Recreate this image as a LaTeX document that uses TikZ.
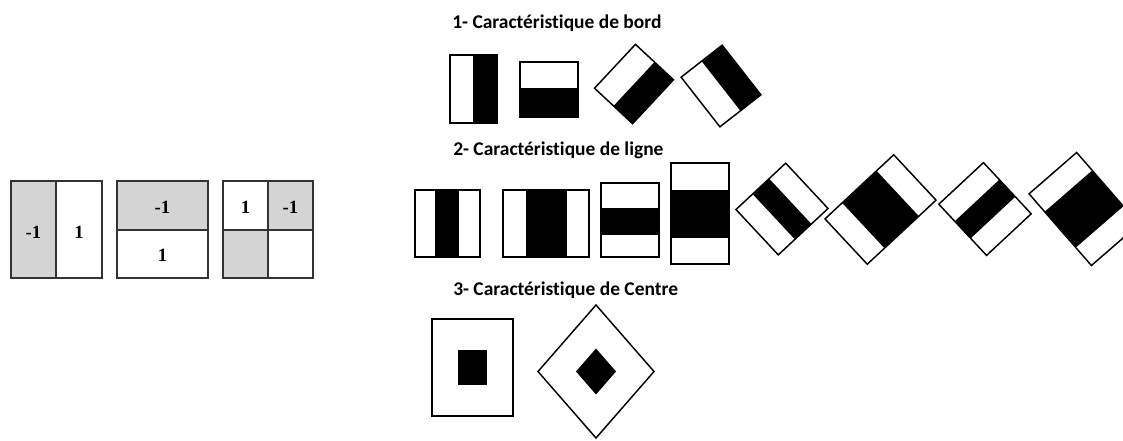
\documentclass[tikz,border=0pt]{standalone}
\usepackage{fontspec}
\setmainfont{Liberation Serif}
\newfontfamily\titlefont[Ligatures=NoCommon]{Carlito}

\begin{document}
\begin{tikzpicture}[x=0.75pt,y=-0.75pt]
    % Define styles
    \tikzstyle{kbox} = [draw=black!80, line width=1.6pt]
    \tikzstyle{lgray} = [fill=black!17]
    \tikzstyle{feat} = [draw, line width=1.1pt]
    \tikzstyle{dark} = [fill=black]
    \tikzstyle{num} = [font=\fontsize{14}{16}\selectfont\bfseries, inner sep=0pt]
    \tikzstyle{title} = [font=\titlefont\fontsize{14.6}{16}\selectfont\bfseries, anchor=west, inner sep=0pt]

    \useasboundingbox (0,0) rectangle (1123,440);
    \clip (0,0) rectangle (1123,440);

    % Kernels
    \fill [lgray] (11,181) rectangle (56,278);
    \draw [kbox] (11,181) rectangle (102,278);
    \draw [kbox] (56,181) -- (56,278);
    \node [num] (k1a) at (33.5,232) {-1};
    \node [num] (k1b) at (79,232) {1};

    \fill [lgray] (117,181) rectangle (208,230);
    \draw [kbox] (117,181) rectangle (208,278);
    \draw [kbox] (117,230) -- (208,230);
    \node [num] (k2a) at (162.5,207) {-1};
    \node [num] (k2b) at (162.5,255) {1};

    \fill [lgray] (268,181) rectangle (313,230);
    \fill [lgray] (223,230) rectangle (268,278);
    \draw [kbox] (223,181) rectangle (313,278);
    \draw [kbox] (268,181) -- (268,278);
    \draw [kbox] (223,230) -- (313,230);
    \node [num] (k3a) at (245.5,207) {1};
    \node [num] (k3b) at (290.5,207) {-1};

    % Titles
    \node [title] (t1) at (452,23) {1- Caractéristique de bord};
    \node [title] (t2) at (453,150) {2- Caractéristique de ligne};
    \node [title] (t3) at (453,290) {3- Caractéristique de Centre};

    % Edge features
    \fill [dark] (473,55) rectangle (497,123);
    \draw [feat] (450,55) rectangle (497,123);
    \fill [dark] (520,88) rectangle (578,117);
    \draw [feat] (520,62) rectangle (578,117);
    \begin{scope}[shift={(634,84)}, rotate=-43]
        \fill [dark] (0,-30) rectangle (26,30);
        \draw [feat] (-26,-30) rectangle (26,30);
    \end{scope}
    \begin{scope}[shift={(721,86)}, rotate=-52]
        \fill [dark] (-31.5,-26) rectangle (31.5,0);
        \draw [feat] (-31.5,-26) rectangle (31.5,26);
    \end{scope}

    % Line features
    \fill [dark] (435,190) rectangle (459,257);
    \draw [feat] (415,190) rectangle (480,257);
    \fill [dark] (526,190) rectangle (567,257);
    \draw [feat] (503,190) rectangle (589,257);
    \fill [dark] (601,208) rectangle (659,235);
    \draw [feat] (601,183) rectangle (659,257);
    \fill [dark] (671,190) rectangle (729,238);
    \draw [feat] (671,163) rectangle (729,264);
    \begin{scope}[shift={(782,209)}, rotate=-47]
        \fill [dark] (-31,-11.3) rectangle (31,11.3);
        \draw [feat] (-31,-34) rectangle (31,34);
    \end{scope}
    \begin{scope}[shift={(880.5,209.5)}, rotate=-47]
        \fill [dark] (-31,-23.5) rectangle (31,23.5);
        \draw [feat] (-31,-47) rectangle (31,47);
    \end{scope}
    \begin{scope}[shift={(985,209)}, rotate=-47]
        \fill [dark] (-11.7,-30.5) rectangle (11.7,30.5);
        \draw [feat] (-35,-30.5) rectangle (35,30.5);
    \end{scope}
    \begin{scope}[shift={(1084,209)}, rotate=-49]
        \fill [dark] (-23.75,-31.5) rectangle (23.75,31.5);
        \draw [feat] (-47.5,-31.5) rectangle (47.5,31.5);
    \end{scope}

    % Centre features
    \fill [dark] (458,350) rectangle (487,385);
    \draw [feat] (432,319) rectangle (513,416);
    \coordinate (c) at (596,371.5);
    \fill [dark] (c) ++(0,-23) -- ++(20,23) -- ++(-20,23) -- ++(-20,-23) -- cycle;
    \draw [feat] (c) ++(0,-66.5) -- ++(58,66.5) -- ++(-58,66.5) -- ++(-58,-66.5) -- cycle;
\end{tikzpicture}
\end{document}
